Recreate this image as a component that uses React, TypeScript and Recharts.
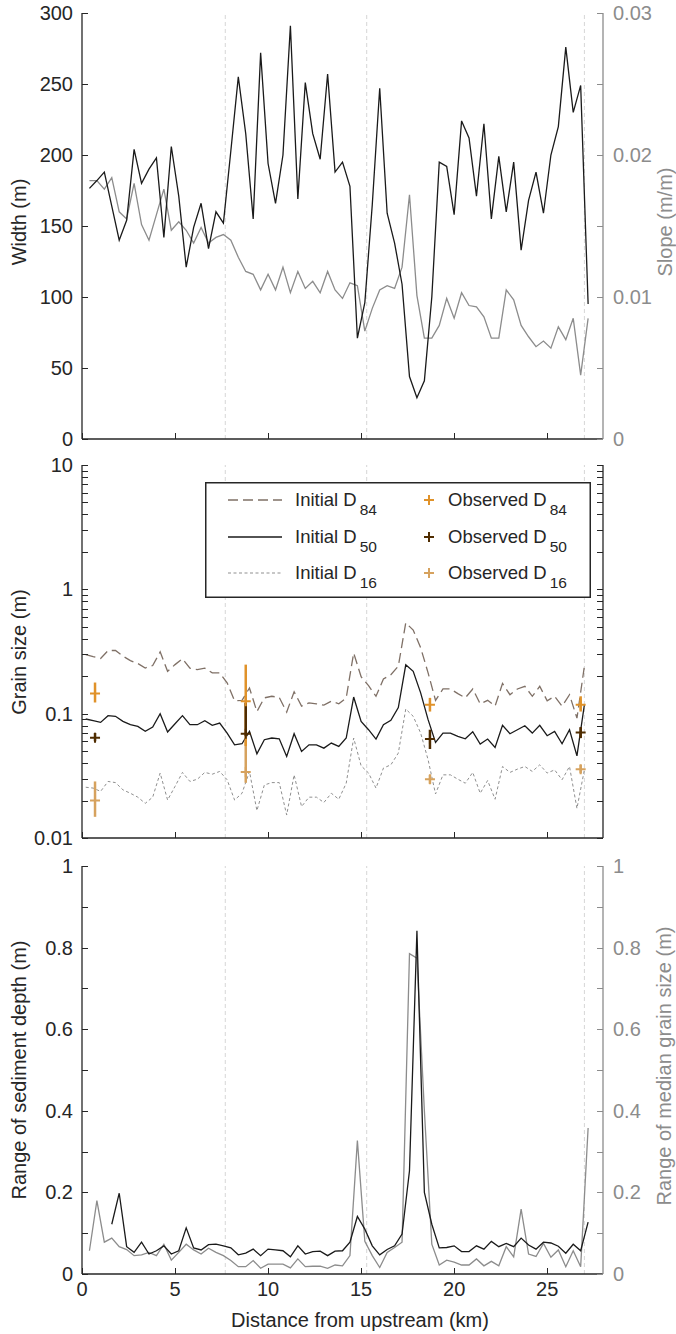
import { ComposedChart, Line, Scatter, ErrorBar, XAxis, YAxis, ReferenceLine, Legend } from 'recharts'

const FONT = '"Liberation Sans", Arial, Helvetica, sans-serif'
const INK = '#262626'
const GREY = '#8c8c8c'
const GUIDE = '#d6d6d6'
const W = 676
const X_DOMAIN: [number, number] = [0, 28]

// stations used by panels a) and c)
const kmA = [0.4, 0.8, 1.2, 1.6, 2.0, 2.4, 2.8, 3.2, 3.6, 4.0, 4.4, 4.8, 5.2, 5.6, 6.0, 6.4, 6.8, 7.2, 7.6, 8.0,
  8.4, 8.8, 9.2, 9.6, 10.0, 10.4, 10.8, 11.2, 11.6, 12.0, 12.4, 12.8, 13.2, 13.6, 14.0, 14.4, 14.8, 15.2, 15.6, 16.0,
  16.4, 16.8, 17.2, 17.6, 18.0, 18.4, 18.8, 19.2, 19.6, 20.0, 20.4, 20.8, 21.2, 21.6, 22.0, 22.4, 22.8, 23.2, 23.6, 24.0,
  24.4, 24.8, 25.2, 25.6, 26.0, 26.4, 26.8, 27.2]
// stations used by panel b)
const kmB = [0.2, 0.6, 1.0, 1.4, 1.8, 2.2, 2.6, 3.0, 3.4, 3.8, 4.2, 4.6, 5.0, 5.4, 5.8, 6.2, 6.6, 7.0, 7.4, 7.8,
  8.2, 8.6, 9.0, 9.4, 9.8, 10.2, 10.6, 11.0, 11.4, 11.8, 12.2, 12.6, 13.0, 13.4, 13.8, 14.2, 14.6, 15.0, 15.4, 15.8,
  16.2, 16.6, 17.0, 17.4, 17.8, 18.2, 18.6, 19.0, 19.4, 19.8, 20.2, 20.6, 21.0, 21.4, 21.8, 22.2, 22.6, 23.0, 23.4, 23.8,
  24.2, 24.6, 25.0, 25.4, 25.8, 26.2, 26.6, 27.0]

const widthM = [176.5, 182, 188, 164, 140, 154, 204, 180, 190, 198, 142, 206, 171, 121, 149, 166, 134, 160, 152, 203,
  255, 215, 155, 272, 194, 166, 200, 291, 169, 251, 215, 197, 257, 188, 195, 178, 71, 96, 165, 247,
  159, 138, 109, 44, 29, 41, 100, 195, 192, 158, 224, 212, 171, 222, 155, 199, 160, 195, 133, 168,
  188, 159, 200, 220, 276, 230, 249, 95]
const slope = [0.0182, 0.0182, 0.0176, 0.0184, 0.0160, 0.0155, 0.0180, 0.0151, 0.0140, 0.0158,
  0.0176, 0.0147, 0.0153, 0.0147, 0.0138, 0.0149, 0.0138, 0.0142, 0.0144, 0.0140,
  0.0128, 0.0118, 0.0116, 0.0105, 0.0116, 0.0105, 0.0121, 0.0103, 0.0118, 0.0106,
  0.0111, 0.0103, 0.0118, 0.0105, 0.0099, 0.0110, 0.0108, 0.0076, 0.0092, 0.0105,
  0.0108, 0.0106, 0.0121, 0.0172, 0.0101, 0.0071, 0.0071, 0.0080, 0.0099, 0.0085,
  0.0103, 0.0094, 0.0093, 0.0086, 0.0071, 0.0071, 0.0105, 0.0098, 0.0080, 0.0072,
  0.0065, 0.0069, 0.0064, 0.0079, 0.0070, 0.0085, 0.0045, 0.0085]

const d84 = [0.299, 0.287, 0.278, 0.322, 0.322, 0.290, 0.267, 0.253, 0.233, 0.244,
  0.314, 0.219, 0.248, 0.276, 0.232, 0.226, 0.232, 0.213, 0.213, 0.177,
  0.127, 0.128, 0.161, 0.104, 0.134, 0.138, 0.135, 0.103, 0.150, 0.115,
  0.122, 0.120, 0.117, 0.126, 0.120, 0.134, 0.308, 0.198, 0.168, 0.138,
  0.190, 0.206, 0.241, 0.538, 0.470, 0.339, 0.213, 0.128, 0.158, 0.158,
  0.145, 0.134, 0.158, 0.120, 0.128, 0.115, 0.175, 0.142, 0.158, 0.166,
  0.138, 0.166, 0.127, 0.138, 0.115, 0.142, 0.092, 0.241]
const d50 = [0.0906, 0.0879, 0.0851, 0.0964, 0.0952, 0.0867, 0.0815, 0.0790, 0.0721, 0.0780,
  0.100, 0.0712, 0.0830, 0.0964, 0.0815, 0.0815, 0.0879, 0.0805, 0.0841, 0.0698,
  0.0562, 0.0573, 0.0721, 0.0476, 0.0617, 0.0637, 0.0628, 0.0453, 0.0690, 0.0497,
  0.0562, 0.0562, 0.0528, 0.0580, 0.0546, 0.0637, 0.136, 0.0867, 0.0743, 0.0625,
  0.0815, 0.0884, 0.112, 0.247, 0.219, 0.147, 0.0895, 0.0587, 0.0698, 0.0698,
  0.0657, 0.0628, 0.0716, 0.0569, 0.0625, 0.0535, 0.0805, 0.0690, 0.0743, 0.0800,
  0.0698, 0.0805, 0.0665, 0.0721, 0.0573, 0.0743, 0.0458, 0.118]
const d16 = [0.0256, 0.0252, 0.0237, 0.0285, 0.0279, 0.0244, 0.0229, 0.0213, 0.0190, 0.0213,
  0.0333, 0.0202, 0.0260, 0.0337, 0.0285, 0.0297, 0.0337, 0.0326, 0.0343, 0.0294,
  0.0202, 0.0229, 0.0343, 0.0166, 0.0267, 0.0279, 0.0279, 0.0153, 0.0322, 0.0179,
  0.0213, 0.0213, 0.0193, 0.0229, 0.0205, 0.0276, 0.0637, 0.0381, 0.0333, 0.0252,
  0.0365, 0.0388, 0.0482, 0.109, 0.0952, 0.0698, 0.0426, 0.0226, 0.0322, 0.0322,
  0.0297, 0.0276, 0.0337, 0.0229, 0.0290, 0.0205, 0.0376, 0.0337, 0.0358, 0.0376,
  0.0343, 0.0388, 0.0333, 0.0353, 0.0294, 0.0376, 0.0173, 0.0353]

const obsKm = [0.7, 8.8, 18.7, 26.8]
const obsD84 = [0.145, 0.126, 0.118, 0.118]
const obsD84Lo = [0.123, 0.055, 0.104, 0.104]
const obsD84Hi = [0.178, 0.248, 0.134, 0.138]
const obsD50 = [0.064, 0.069, 0.0625, 0.0706]
const obsD50Lo = [0.060, 0.066, 0.052, 0.0636]
const obsD50Hi = [0.070, 0.122, 0.0743, 0.078]
const obsD16 = [0.020, 0.034, 0.0297, 0.0358]
const obsD16Lo = [0.0148, 0.0278, 0.0273, 0.0332]
const obsD16Hi = [0.0285, 0.060, 0.0322, 0.0388]

const depthRange = [null, null, null, 0.122, 0.198, 0.067, 0.053, 0.078, 0.049, 0.057,
  0.069, 0.049, 0.057, 0.113, 0.064, 0.059, 0.072, 0.073, 0.069, 0.064,
  0.047, 0.051, 0.061, 0.045, 0.061, 0.059, 0.057, 0.042, 0.069, 0.049,
  0.055, 0.056, 0.045, 0.056, 0.057, 0.078, 0.141, 0.110, 0.069, 0.047,
  0.060, 0.069, 0.098, 0.253, 0.841, 0.200, 0.122, 0.064, 0.065, 0.069,
  0.055, 0.055, 0.069, 0.061, 0.080, 0.067, 0.075, 0.067, 0.088, 0.071,
  0.061, 0.078, 0.076, 0.068, 0.051, 0.073, 0.057, 0.127]
const grainRange = [0.057, 0.180, 0.078, 0.088, 0.067, 0.060, 0.045, 0.047, 0.053, 0.045,
  0.073, 0.034, 0.053, 0.073, 0.059, 0.049, 0.063, 0.053, 0.045, 0.033,
  0.018, 0.018, 0.033, 0.014, 0.024, 0.024, 0.024, 0.015, 0.037, 0.018,
  0.019, 0.019, 0.014, 0.022, 0.020, 0.045, 0.327, 0.080, 0.045, 0.016,
  0.053, 0.065, 0.078, 0.785, 0.774, 0.400, 0.073, 0.022, 0.034, 0.029,
  0.022, 0.022, 0.037, 0.020, 0.031, 0.020, 0.067, 0.042, 0.159, 0.049,
  0.043, 0.075, 0.041, 0.059, 0.018, 0.057, 0.018, 0.358]

const sections = [7.7, 15.3, 27.0]
const xTicks = [0, 5, 10, 15, 20, 25]
const widthTicks = [0, 50, 100, 150, 200, 250, 300]
const slopeTicks = [0, 0.005, 0.01, 0.015, 0.02, 0.025, 0.03]
const slopeLabels = [0, 0.01, 0.02, 0.03]
const gsTicks = [0.01, 0.02, 0.03, 0.04, 0.05, 0.06, 0.07, 0.08, 0.09, 0.1, 0.2, 0.3, 0.4, 0.5, 0.6, 0.7, 0.8, 0.9,
  1, 2, 3, 4, 5, 6, 7, 8, 9, 10]
const gsLabels = [0.01, 0.1, 1, 10]
const rangeTicks = [0, 0.1, 0.2, 0.3, 0.4, 0.5, 0.6, 0.7, 0.8, 0.9, 1]
const rangeLabels = [0, 0.2, 0.4, 0.6, 0.8, 1]

const rowsA = kmA.map((km, i) => ({ km, width: widthM[i], slope: slope[i], depth: depthRange[i], grain: grainRange[i] }))
const rowsB = kmB.map((km, i) => ({ km, d84: d84[i], d50: d50[i], d16: d16[i] }))
const obsRows = obsKm.map((km, i) => ({
  km,
  o84: obsD84[i], e84: [obsD84[i] - obsD84Lo[i], obsD84Hi[i] - obsD84[i]],
  o50: obsD50[i], e50: [obsD50[i] - obsD50Lo[i], obsD50Hi[i] - obsD50[i]],
  o16: obsD16[i], e16: [obsD16[i] - obsD16Lo[i], obsD16Hi[i] - obsD16[i]],
}))

const initSeries = [
  { key: 'd84', sub: '84', stroke: '#7f7066', dash: '10 5', w: 1.3 },
  { key: 'd50', sub: '50', stroke: '#1a1a1a', dash: undefined, w: 1.3 },
  { key: 'd16', sub: '16', stroke: '#8f8f8f', dash: '3 2.5', w: 1 },
]
const obsSeries = [
  { key: 'o84', err: 'e84', sub: '84', color: '#E0922A' },
  { key: 'o50', err: 'e50', sub: '50', color: '#4F2C00' },
  { key: 'o16', err: 'e16', sub: '16', color: '#D6A25E' },
]
const obsDrawOrder = [obsSeries[2], obsSeries[0], obsSeries[1]]

// inward ticks (snapped to the pixel grid), labels only where asked
const TL = 6
const snap = (v: number) => Math.round(v) + 0.5
function tickFor(side: 'left' | 'right' | 'top' | 'bottom', color: string, labels?: number[]) {
  return (p: any) => {
    const x = Number(p.x), y = Number(p.y)
    const v = p.payload.value
    const show = labels ? labels.some(l => Math.abs(l - v) < 1e-9) : false
    let x1 = x, y1 = y, x2 = x, y2 = y, tx = x, ty = y
    let anchor: 'start' | 'middle' | 'end' = 'middle'
    if (side === 'left') { y1 = y2 = snap(y); x2 = x + TL; tx = x - 9; ty = y + 7; anchor = 'end' }
    if (side === 'right') { y1 = y2 = snap(y); x2 = x - TL; tx = x + 10; ty = y + 7; anchor = 'start' }
    if (side === 'bottom') { x1 = x2 = snap(x); y2 = y - TL; ty = y + 22 }
    if (side === 'top') { x1 = x2 = snap(x); y2 = y + TL }
    return (
      <g>
        <line x1={x1} y1={y1} x2={x2} y2={y2} stroke={color} strokeWidth={1} shapeRendering="crispEdges" />
        {show && <text x={tx} y={ty} textAnchor={anchor} fill={color} fontSize={20} fontFamily={FONT}>{String(v)}</text>}
      </g>
    )
  }
}

const tag = (text: string, y: number) => () => (
  <text x={105} y={y} fontSize={20} fill={INK} fontFamily={FONT}>{text}</text>
)
const vTitle = (text: string, x: number, y: number, color: string) => () => (
  <text x={x} y={y} transform={`rotate(-90 ${x} ${y})`} textAnchor="middle" fontSize={20} fill={color} fontFamily={FONT}>{text}</text>
)
const hTitle = (text: string, x: number, y: number) => () => (
  <text x={x} y={y} textAnchor="middle" fontSize={20} fill={INK} fontFamily={FONT}>{text}</text>
)

const plus = (color: string) => (p: any) => {
  const { cx, cy } = p
  if (cx == null || cy == null) return <g />
  return <path d={`M${cx - 5},${cy}H${cx + 5}M${cx},${cy - 5}V${cy + 5}`} stroke={color} strokeWidth={2} fill="none" />
}

const axisBase = { tickLine: false, tickSize: 0, tickMargin: 0, interval: 0 as const, allowDataOverflow: true }
const spine = { stroke: INK, strokeWidth: 1.3 }
const greySpine = { stroke: GREY, strokeWidth: 1.3 }

function GrainLegend() {
  const rowY = [18, 55, 91]
  return (
    <svg width={386} height={116} style={{ display: 'block', fontFamily: FONT }}>
      <rect x={0.75} y={0.75} width={384.5} height={114.5} fill="#fff" stroke={INK} strokeWidth={1.5} />
      {initSeries.map((s, i) => (
        <g key={s.key}>
          <line x1={23} x2={77} y1={rowY[i]} y2={rowY[i]} stroke={s.stroke} strokeWidth={s.w} strokeDasharray={s.dash} />
          <text x={90} y={rowY[i] + 6} fontSize={18.5} fill={INK}>
            Initial D<tspan dx={3} dy={9} fontSize={15.5}>{s.sub}</tspan>
          </text>
        </g>
      ))}
      {obsSeries.map((s, i) => (
        <g key={s.key}>
          <path d={`M219,${rowY[i]}H229M224,${rowY[i] - 5}V${rowY[i] + 5}`} stroke={s.color} strokeWidth={2} fill="none" />
          <text x={243} y={rowY[i] + 6} fontSize={18.5} fill={INK}>
            Observed D<tspan dx={3} dy={9} fontSize={15.5}>{s.sub}</tspan>
          </text>
        </g>
      ))}
    </svg>
  )
}

function PanelA() {
  return (
    <ComposedChart width={W} height={450} data={rowsA} margin={{ top: 13, right: 0, bottom: 0, left: 0 }}>
      <XAxis xAxisId="x" dataKey="km" type="number" domain={X_DOMAIN} ticks={xTicks} height={11} {...axisBase}
        axisLine={spine} tick={tickFor('bottom', INK)} />
      <XAxis xAxisId="top" orientation="top" dataKey="km" type="number" domain={X_DOMAIN} ticks={xTicks} height={0} {...axisBase}
        axisLine={spine} tick={tickFor('top', INK)} label={tag('a)', 46)} />
      <YAxis yAxisId="w" type="number" domain={[0, 300]} ticks={widthTicks} width={82} {...axisBase}
        axisLine={spine} tick={tickFor('left', INK, widthTicks)} label={vTitle('Width (m)', 26, 222, INK)} />
      <YAxis yAxisId="s" orientation="right" type="number" domain={[0, 0.03]} ticks={slopeTicks} width={73} {...axisBase}
        axisLine={greySpine} tick={tickFor('right', GREY, slopeLabels)} label={vTitle('Slope (m/m)', 672, 222, GREY)} />
      {sections.map(s => (
        <ReferenceLine key={s} xAxisId="x" yAxisId="w" x={s} stroke={GUIDE} strokeDasharray="4 3" />
      ))}
      <Line xAxisId="x" yAxisId="s" dataKey="slope" stroke={GREY} strokeWidth={1.3} dot={false} isAnimationActive={false} />
      <Line xAxisId="x" yAxisId="w" dataKey="width" stroke="#1a1a1a" strokeWidth={1.3} dot={false} isAnimationActive={false} />
    </ComposedChart>
  )
}

function PanelB() {
  return (
    <ComposedChart width={W} height={400} data={rowsB} margin={{ top: 15, right: 0, bottom: 0, left: 0 }}>
      <XAxis xAxisId="x" dataKey="km" type="number" domain={X_DOMAIN} ticks={xTicks} height={12} {...axisBase}
        axisLine={spine} tick={tickFor('bottom', INK)} />
      <XAxis xAxisId="top" orientation="top" dataKey="km" type="number" domain={X_DOMAIN} ticks={xTicks} height={0} {...axisBase}
        axisLine={spine} tick={tickFor('top', INK)} label={tag('b)', 45)} />
      <YAxis yAxisId="g" type="number" scale="log" domain={[0.01, 10]} ticks={gsTicks} width={82} {...axisBase}
        axisLine={spine} tick={tickFor('left', INK, gsLabels)} label={vTitle('Grain size (m)', 26, 202, INK)} />
      <YAxis yAxisId="gr" orientation="right" type="number" scale="log" domain={[0.01, 10]} ticks={gsTicks} width={73} {...axisBase}
        axisLine={spine} tick={tickFor('right', INK)} />
      {sections.map(s => (
        <ReferenceLine key={s} xAxisId="x" yAxisId="g" x={s} stroke={GUIDE} strokeDasharray="4 3" />
      ))}
      {initSeries.map(s => (
        <Line key={s.key} xAxisId="x" yAxisId="g" dataKey={s.key} stroke={s.stroke} strokeWidth={s.w}
          strokeDasharray={s.dash} dot={false} isAnimationActive={false} />
      ))}
      {obsDrawOrder.map(s => (
        <Scatter key={s.key} xAxisId="x" yAxisId="g" data={obsRows} dataKey={s.key} fill={s.color}
          shape={plus(s.color)} isAnimationActive={false}>
          <ErrorBar dataKey={s.err} direction="y" width={0} stroke={s.color} strokeWidth={2.5} isAnimationActive={false} />
        </Scatter>
      ))}
      <Legend layout="horizontal" verticalAlign="middle" align="center" content={() => <GrainLegend />}
        wrapperStyle={{ left: 205, top: 32, width: 386, height: 116, lineHeight: 0 }} />
    </ComposedChart>
  )
}

function PanelC() {
  return (
    <ComposedChart width={W} height={484} data={rowsA} margin={{ top: 16, right: 0, bottom: 0, left: 0 }}>
      <XAxis xAxisId="x" dataKey="km" type="number" domain={X_DOMAIN} ticks={xTicks} height={60} {...axisBase}
        axisLine={spine} tick={tickFor('bottom', INK, xTicks)} label={hTitle('Distance from upstream (km)', 360, 477)} />
      <XAxis xAxisId="top" orientation="top" dataKey="km" type="number" domain={X_DOMAIN} ticks={xTicks} height={0} {...axisBase}
        axisLine={spine} tick={tickFor('top', INK)} label={tag('c)', 41)} />
      <YAxis yAxisId="d" type="number" domain={[0, 1]} ticks={rangeTicks} width={82} {...axisBase}
        axisLine={spine} tick={tickFor('left', INK, rangeLabels)} label={vTitle('Range of sediment depth (m)', 26, 220, INK)} />
      <YAxis yAxisId="m" orientation="right" type="number" domain={[0, 1]} ticks={rangeTicks} width={73} {...axisBase}
        axisLine={greySpine} tick={tickFor('right', GREY, rangeLabels)}
        label={vTitle('Range of median grain size (m)', 671, 216, GREY)} />
      {sections.map(s => (
        <ReferenceLine key={s} xAxisId="x" yAxisId="d" x={s} stroke={GUIDE} strokeDasharray="4 3" />
      ))}
      <Line xAxisId="x" yAxisId="m" dataKey="grain" stroke={GREY} strokeWidth={1.3} dot={false} isAnimationActive={false} />
      <Line xAxisId="x" yAxisId="d" dataKey="depth" stroke="#1a1a1a" strokeWidth={1.3} dot={false} isAnimationActive={false} />
    </ComposedChart>
  )
}

export default function App() {
  return (
    <div style={{ position: 'absolute', left: 0, top: 0, width: W, height: 1334, background: '#fff', fontFamily: FONT }}>
      <div style={{ position: 'absolute', left: 0, top: 0 }}><PanelA /></div>
      <div style={{ position: 'absolute', left: 0, top: 450 }}><PanelB /></div>
      <div style={{ position: 'absolute', left: 0, top: 850 }}><PanelC /></div>
    </div>
  )
}
